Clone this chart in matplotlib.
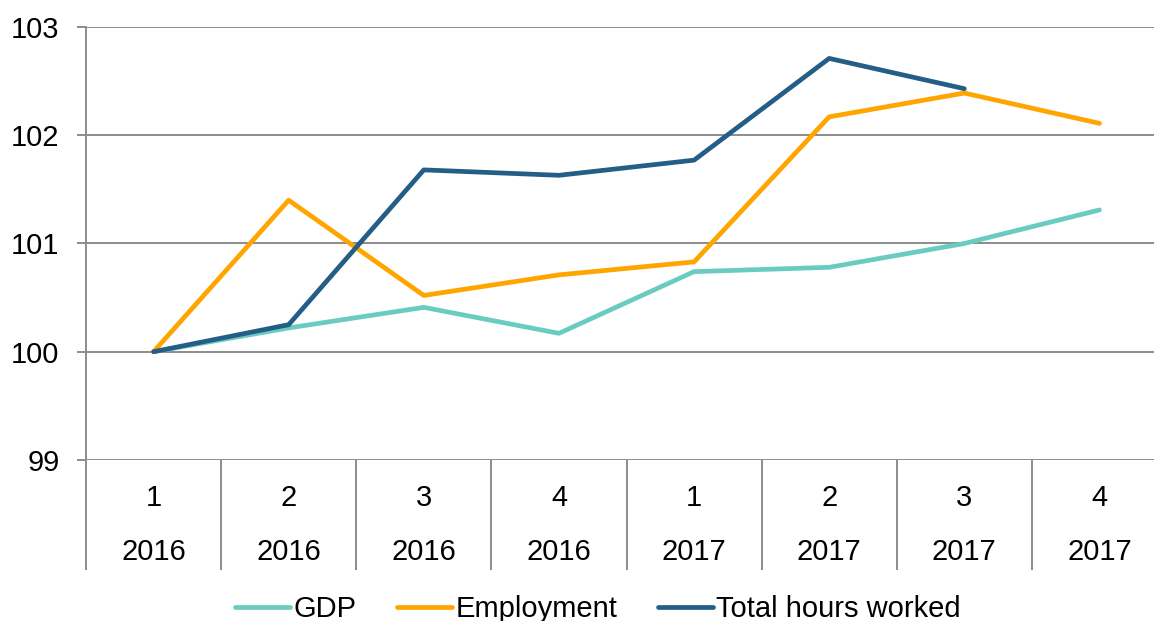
import numpy as np
import matplotlib.pyplot as plt
from matplotlib.transforms import blended_transform_factory

quarters = ["1", "2", "3", "4", "1", "2", "3", "4"]
years = ["2016", "2016", "2016", "2016", "2017", "2017", "2017", "2017"]

gdp = [100.0, 100.22, 100.41, 100.17, 100.74, 100.78, 101.0, 101.31]
employment = [100.0, 101.40, 100.52, 100.71, 100.83, 102.17, 102.39, 102.11]
hours = [100.0, 100.25, 101.68, 101.63, 101.77, 102.71, 102.43]

plt.rcParams['font.family'] = ['Liberation Sans', 'DejaVu Sans']
fsz = 21
grey = "#8c8c8c"

fig = plt.figure(figsize=(11.54, 6.21), dpi=100)
ax = fig.add_axes([0.0745, 0.2593, 1.0113 - 0.0745, 0.9565 - 0.2593])

x = np.arange(len(quarters))
ax.plot(x, gdp, color="#6accc0", lw=3.4, solid_capstyle='round', label="GDP")
ax.plot(x, employment, color="#ffa500", lw=3.4, solid_capstyle='round', label="Employment")
ax.plot(x[:len(hours)], hours, color="#245e86", lw=3.4, solid_capstyle='round',
        label="Total hours worked")

ax.set_xlim(-0.5, 7.5)
ax.set_ylim(99, 103)
ax.set_yticks([99, 100, 101, 102, 103])
ax.yaxis.grid(True, color=grey, lw=1.4)
ax.set_axisbelow(True)

for s in ["top", "right", "bottom"]:
    ax.spines[s].set_visible(False)
ax.spines["left"].set_color(grey)
ax.spines["left"].set_linewidth(1.4)

ax.tick_params(axis='y', length=6.5, width=1.4, color=grey, labelsize=fsz, pad=12.5)

# category dividers below the axis
ax.set_xticks(x)
ax.set_xticklabels(quarters)
ax.set_xticks(np.arange(-0.5, 8.0, 1.0), minor=True)
ax.tick_params(axis='x', which='major', length=0, labelsize=fsz, pad=17)
ax.tick_params(axis='x', which='minor', length=79, width=1.4, color=grey, direction='out')

trans = blended_transform_factory(ax.transData, ax.transAxes)
for i, yr in enumerate(years):
    ax.text(i, -0.212, yr, transform=trans, ha='center', va='center', fontsize=fsz)

ax.legend(loc='center', bbox_to_anchor=(0.518, 0.019), bbox_transform=fig.transFigure,
          ncol=3, frameon=False, fontsize=fsz, handlelength=1.9, handletextpad=0.1,
          columnspacing=1.4)

fig.savefig("out.png", dpi=100)
